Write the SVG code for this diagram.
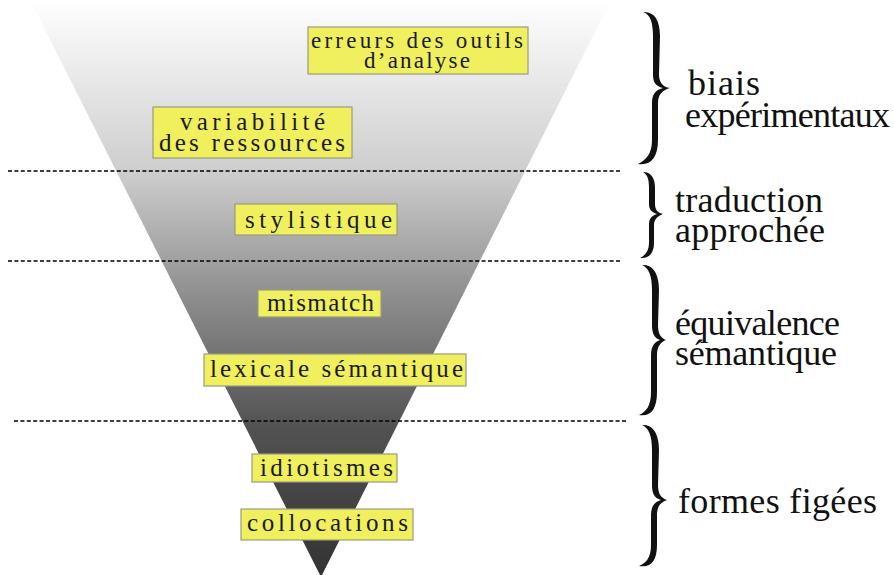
<svg xmlns="http://www.w3.org/2000/svg" width="894" height="575" viewBox="0 0 894 575">
<defs>
<linearGradient id="funnelGrad" x1="0" y1="0" x2="0" y2="1">
<stop offset="0" stop-color="#ffffff"/>
<stop offset="0.3" stop-color="#cdcdcd"/>
<stop offset="0.52" stop-color="#8c8c8c"/>
<stop offset="0.74" stop-color="#525252"/>
<stop offset="1" stop-color="#333333"/>
</linearGradient>
<style>
.box{fill:#f0f05e;stroke:#9a9a80;stroke-width:1.2}
.bt{font-family:"Liberation Serif","DejaVu Serif",serif;font-size:25px;fill:#1a1a1a}
.bt.small{font-size:23px}
.dash{stroke:#000;stroke-width:1.6;stroke-dasharray:4 2.4;fill:none}
.brace{fill:#111}
.lab{font-family:"Liberation Serif","DejaVu Serif",serif;font-size:36px;fill:#111}
</style>
</defs>
<rect width="894" height="575" fill="#ffffff"/>
<g id="funnel">
<path d="M30,0 L611,0 L321,577 Z" fill="url(#funnelGrad)"/>
</g>
<g id="connectors">
<line class="dash" x1="8" y1="171" x2="622" y2="171"/>
<line class="dash" x1="8" y1="261" x2="622" y2="261"/>
<line class="dash" x1="14" y1="421" x2="628" y2="421"/>
</g>
<g id="node-erreurs">
<rect class="box" x="308" y="27" width="220" height="47"/>
<text class="bt small" x="311" y="48" textLength="212">erreurs des outils</text>
<text class="bt small" x="364" y="68" textLength="106">d’analyse</text>
</g>
<g id="node-variabilite">
<rect class="box" x="153" y="107" width="199" height="51"/>
<text class="bt" x="180" y="130" textLength="145">variabilité</text>
<text class="bt" x="159" y="151" textLength="186">des ressources</text>
</g>
<g id="node-stylistique">
<rect class="box" x="235" y="204" width="162" height="31"/>
<text class="bt" x="245" y="228" textLength="147">stylistique</text>
</g>
<g id="node-mismatch">
<rect class="box" x="258" y="290" width="123" height="27"/>
<text class="bt" x="267" y="311" textLength="107">mismatch</text>
</g>
<g id="node-lexicale">
<rect class="box" x="204" y="354" width="262" height="32"/>
<text class="bt" x="210" y="377" textLength="253">lexicale sémantique</text>
</g>
<g id="node-idiotismes">
<rect class="box" x="252" y="454" width="145" height="28"/>
<text class="bt" x="260" y="476" textLength="133">idiotismes</text>
</g>
<g id="node-collocations">
<rect class="box" x="241" y="509" width="172" height="31"/>
<text class="bt" x="247" y="531" textLength="161">collocations</text>
</g>
<g id="label-biais">
<path class="brace" d="M643,12 C654,11 660,20 660,36 L659,74 C659,83 663,87 670,88 C663,90 658,94 658,103 L658,140 C658,157 651,166 638,164 C646,160 652,154 652,140 L652,103 C652,95 655,90 663,88 C655,86 653,82 653,74 L653,36 C653,22 650,14 643,12 Z"/>
<text class="lab" x="688" y="95" textLength="72">biais</text>
<text class="lab" x="685" y="127" textLength="205">expérimentaux</text>
</g>
<g id="label-traduction">
<path class="brace" d="M643,172 C651,172 655,178 655,188 L655,204 C655,210 658,213 663,214 C658,216 654,219 654,225 L654,243 C654,253 649,259 640,258 C646,255 649,250 649,243 L649,225 C649,219 651,216 657,214 C651,212 649,209 649,204 L649,188 C649,180 648,175 643,172 Z"/>
<text class="lab" x="675" y="212" textLength="148">traduction</text>
<text class="lab" x="675" y="242" textLength="150">approchée</text>
</g>
<g id="label-equivalence">
<path class="brace" d="M642,265 C653,264 659,274 659,290 L658,325 C658,334 661,338 666,340 C661,342 657,346 657,355 L657,392 C657,409 651,417 639,415 C646,412 651,406 651,392 L651,355 C651,347 654,342 660,340 C654,338 652,333 652,325 L652,290 C652,276 649,268 642,265 Z"/>
<text class="lab" x="675" y="335" textLength="165">équivalence</text>
<text class="lab" x="675" y="365" textLength="162">sémantique</text>
</g>
<g id="label-formes">
<path class="brace" d="M642,425 C653,424 659,434 659,450 L658,485 C658,494 661,498 667,500 C661,502 657,506 657,515 L657,545 C657,561 651,568 639,566 C646,563 651,558 651,545 L651,515 C651,507 654,502 661,500 C654,498 652,493 652,485 L652,450 C652,436 649,428 642,425 Z"/>
<text class="lab" x="678" y="513" textLength="199">formes figées</text>
</g>
</svg>
